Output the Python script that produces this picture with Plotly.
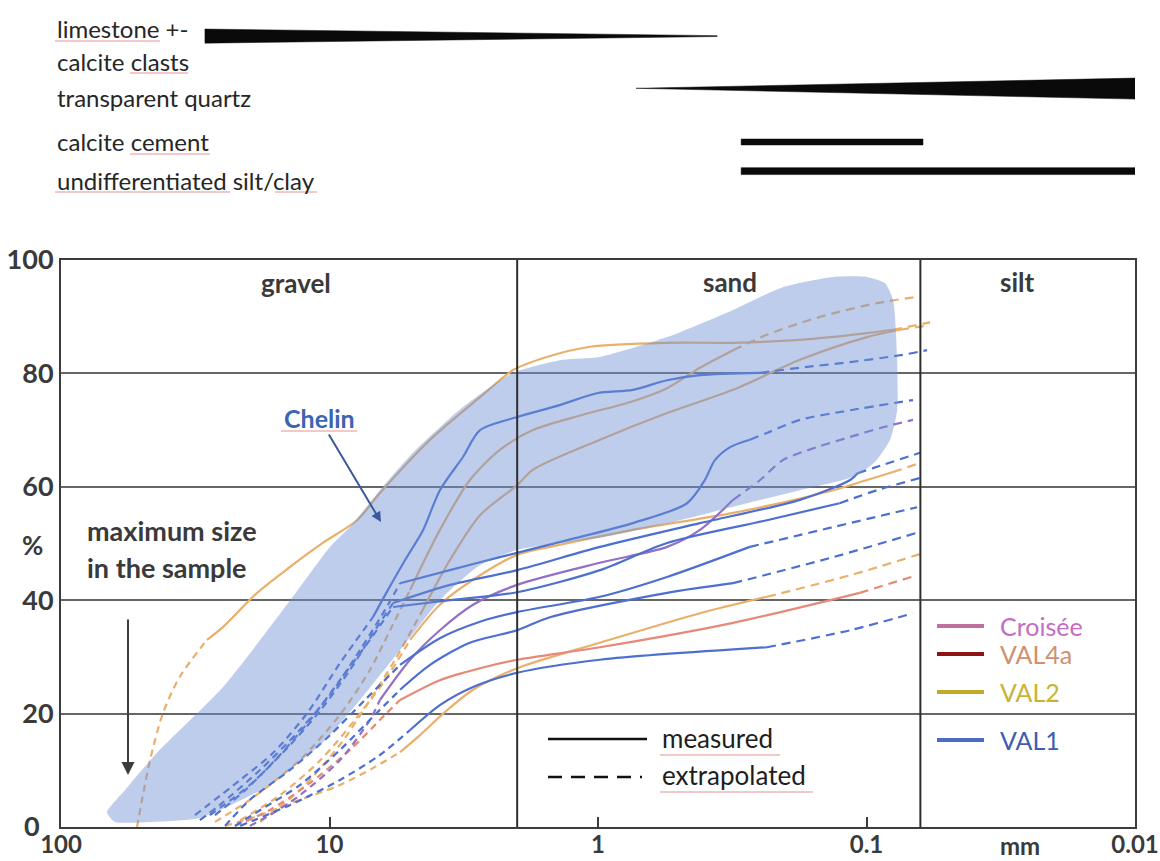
import plotly.graph_objects as go

# ---------------- data ----------------
series_names = ["Croisée", "VAL4a", "VAL2", "VAL1"]
series_swatch_colors = ["#c0709c", "#8e1414", "#c4aa2a", "#4c6cc4"]
series_text_colors = ["#c46cc4", "#d0906e", "#c8b434", "#3f5cb0"]
curve_colors = {"Croisée": "#9270c6", "VAL4a": "#e68a78", "VAL2": "#e9b06c", "VAL1": "#4d6fcf"}

x_tick_vals = [100, 10, 1, 0.1, 0.01]
x_tick_text = ["100", "10", "1", "0.1", "0.01"]
y_tick_vals = [0, 20, 40, 60, 80, 100]

fraction_names = ["gravel", "sand", "silt"]
fraction_limits_mm = [2.0, 0.063]

# composition bars (top panel)
mineral_labels = ["limestone +-", "calcite clasts", "transparent quartz", "calcite cement",
                  "undifferentiated silt/clay"]
mineral_coarse_mm = [29.1, 0.722, 0.293, 0.293]
mineral_fine_mm = [0.36, 0.01, 0.0616, 0.01]
mineral_abund_coarse = [0.47, 0.02, 0.20, 0.23]
mineral_abund_fine = [0.03, 0.70, 0.20, 0.23]
mineral_row = [5.13, 3.38, 1.60, 0.63]

# grain-size curves: size (mm), cumulative %, (first, last) index of the measured part
val2_a_mm = [52.1, 49.9, 46.6, 41.7, 36.1, 28.6, 24.9, 18.6, 14.0, 10.6, 7.90, 6.49, 4.22, 2.75, 2.07,
             1.55, 1.07, 0.553, 0.314, 0.177, 0.0996, 0.0796, 0.058]
val2_a_pct = [0, 4.8, 11.8, 20.1, 26.5, 33.0, 35.3, 41.3, 45.9, 50.1, 54.1, 58.9, 68.3, 75.8, 80.6,
              82.9, 84.7, 85.4, 85.4, 85.9, 87.1, 87.7, 89.0]
val2_a_meas = (5, 21)

val2_b_mm = [26.7, 19.8, 12.9, 9.14, 7.07, 5.95, 5.01, 3.88, 3.00, 2.32, 1.75, 1.14, 0.741, 0.553,
             0.417, 0.314, 0.235, 0.153, 0.0914, 0.0648]
val2_b_pct = [0.9, 4.8, 11.8, 19.8, 27.7, 34.7, 41.8, 52.4, 61.2, 66.5, 70.0, 72.7, 75.1, 77.4,
              81.0, 84.1, 86.8, 89.8, 92.4, 93.5]
val2_b_meas = (6, 15)

val2_c_mm = [18.1, 12.9, 9.14, 7.07, 5.70, 4.60, 3.56, 2.75, 2.00, 1.75, 0.983, 0.553, 0.314, 0.177,
             0.0996, 0.0750, 0.0580]
val2_c_pct = [0.9, 6.5, 14.5, 22.4, 29.5, 37.4, 47.1, 55.0, 60.3, 63.0, 68.3, 73.0, 77.1, 82.4,
              86.4, 87.7, 88.5]
val2_c_meas = (5, 15)

val2_d_mm = [21.5, 15.3, 10.8, 8.04, 6.21, 5.01, 3.88, 2.75, 2.00, 1.51, 0.741, 0.314, 0.133, 0.0996,
             0.0796, 0.0632]
val2_d_pct = [1.2, 5.6, 11.8, 18.9, 25.9, 33.0, 39.2, 44.4, 48.0, 49.4, 52.4, 55.4, 59.4, 61.2,
              62.6, 64.2]
val2_d_meas = (5, 14)

val2_e_mm = [24.5, 18.1, 12.9, 9.14, 6.77, 5.46, 4.60, 3.71, 2.92, 2.00, 0.983, 0.417, 0.235, 0.115,
             0.0616]
val2_e_pct = [0.2, 2.1, 4.8, 7.4, 10.6, 13.2, 16.2, 20.3, 24.2, 28.0, 32.5, 37.7, 40.6, 44.4, 48.3]
val2_e_meas = (5, 12)

val1_a_mm = [31.7, 21.5, 16.2, 12.1, 9.14, 6.89, 6.21, 5.23, 4.48, 3.88, 3.18, 2.75, 2.00, 1.39, 1.01,
             0.741, 0.553, 0.417, 0.249, 0.177, 0.115, 0.0750, 0.0595]
val1_a_pct = [2.1, 8.3, 13.1, 20.1, 28.9, 37.0, 40.9, 47.1, 52.4, 59.4, 65.3, 70.0, 72.3, 74.4, 76.5,
              77.1, 78.8, 79.7, 80.1, 81.0, 82.0, 83.2, 84.1]
val1_a_meas = (5, 18)

val1_b_mm = [30.4, 25.6, 18.1, 12.9, 9.96, 7.70, 6.21, 5.46, 3.56, 2.32, 1.30, 0.741, 0.466, 0.400,
             0.367, 0.322, 0.272, 0.235, 0.177, 0.115, 0.0671]
val1_b_pct = [1.2, 3.9, 10.1, 17.1, 23.3, 31.2, 38.3, 43.0, 45.3, 47.6, 50.6, 53.6, 57.1, 61.2,
              64.7, 67.0, 68.3, 69.5, 71.8, 73.5, 75.3]
val1_b_meas = (7, 16)

val1_c_mm = [27.9, 19.8, 14.0, 10.8, 8.39, 6.77, 5.80, 3.56, 2.00, 0.983, 0.417, 0.177, 0.115, 0.108,
             0.0946, 0.0632]
val1_c_pct = [2.1, 7.4, 14.5, 20.6, 27.7, 34.7, 39.5, 42.7, 45.3, 49.4, 53.6, 57.7, 61.2, 62.4,
              63.3, 66.0]
val1_c_meas = (6, 13)

val1_d_mm = [26.7, 20.6, 15.3, 11.8, 9.14, 7.07, 5.80, 3.56, 2.00, 0.983, 0.553, 0.235, 0.126, 0.0914,
             0.0616]
val1_d_pct = [2.1, 6.5, 12.7, 18.9, 25.9, 33.0, 38.8, 40.0, 41.4, 45.3, 50.1, 54.1, 57.1, 59.4, 61.7]
val1_d_meas = (6, 12)

val1_e_mm = [24.5, 19.8, 14.0, 9.96, 7.38, 5.46, 3.88, 2.75, 2.00, 0.983, 0.553, 0.272, 0.133, 0.0648]
val1_e_pct = [0.2, 4.8, 10.1, 16.2, 22.4, 28.6, 33.3, 36.2, 37.9, 40.6, 44.1, 49.4, 52.9, 56.4]
val1_e_meas = (5, 11)

val1_f_mm = [22.5, 18.1, 12.9, 9.14, 6.77, 5.46, 4.22, 3.00, 2.00, 1.51, 0.553, 0.314, 0.133, 0.0648]
val1_f_pct = [0.2, 3.0, 7.4, 13.6, 19.8, 24.2, 28.6, 32.5, 34.7, 37.0, 41.3, 43.0, 47.6, 51.9]
val1_f_meas = (5, 11)

val1_g_mm = [21.5, 14.0, 9.14, 6.49, 5.01, 3.88, 2.92, 2.00, 0.983, 0.235, 0.115, 0.0671]
val1_g_pct = [0.2, 3.9, 8.3, 12.7, 17.1, 21.5, 24.7, 27.2, 29.5, 31.7, 34.7, 37.7]
val1_g_meas = (4, 9)

val4a_a_mm = [22.5, 16.7, 12.1, 8.39, 6.21, 5.46, 3.88, 2.75, 2.00, 0.983, 0.314, 0.106, 0.0648]
val4a_a_pct = [0.2, 3.0, 7.4, 13.6, 19.8, 22.4, 25.9, 28.0, 29.5, 31.7, 36.0, 41.3, 44.4]
val4a_a_meas = (5, 11)

croisee_a_mm = [19.8, 16.7, 12.9, 9.14, 7.07, 6.49, 5.01, 3.88, 2.92, 2.00, 0.983, 0.553, 0.417, 0.314,
                0.249, 0.205, 0.153, 0.115, 0.0868, 0.0671]
croisee_a_pct = [0.2, 2.1, 5.6, 11.8, 18.9, 22.4, 29.5, 34.7, 39.2, 42.7, 46.6, 49.4, 52.4, 57.7,
                 61.2, 64.7, 67.0, 68.8, 70.5, 71.8]
croisee_a_meas = (5, 13)

# Chelin envelope
chelin_mm = [67.4, 57.8, 43.9, 24.9, 14.0, 9.96, 8.39, 6.49, 4.89, 3.18, 2.07, 1.35, 0.984, 0.553, 0.314,
             0.205, 0.133, 0.0996, 0.0853, 0.0796, 0.0769, 0.0769, 0.0817, 0.0929, 0.110, 0.177, 0.296,
             0.495, 0.984, 1.99, 2.75, 3.88, 5.46, 7.70, 10.8, 18.1, 30.4, 46.6, 63.0]
chelin_pct = [2.6, 6.5, 13.1, 24.7, 40.0, 49.4, 52.9, 59.4, 66.0, 74.1, 80.1, 82.4, 82.9, 86.4, 91.2,
              95.2, 97.0, 97.0, 95.9, 92.9, 82.4, 73.5, 68.3, 64.4, 61.9, 59.4, 56.8, 54.1, 51.0, 48.9,
              46.2, 40.0, 31.2, 22.4, 14.5, 6.5, 1.6, 0.9, 0.9]

curves = [
    ("VAL2", val2_a_mm, val2_a_pct, val2_a_meas),
    ("VAL2", val2_b_mm, val2_b_pct, val2_b_meas),
    ("VAL2", val2_c_mm, val2_c_pct, val2_c_meas),
    ("VAL2", val2_d_mm, val2_d_pct, val2_d_meas),
    ("VAL2", val2_e_mm, val2_e_pct, val2_e_meas),
    ("VAL4a", val4a_a_mm, val4a_a_pct, val4a_a_meas),
    ("Croisée", croisee_a_mm, croisee_a_pct, croisee_a_meas),
    ("VAL1", val1_g_mm, val1_g_pct, val1_g_meas),
    ("VAL1", val1_f_mm, val1_f_pct, val1_f_meas),
    ("VAL1", val1_e_mm, val1_e_pct, val1_e_meas),
    ("VAL1", val1_d_mm, val1_d_pct, val1_d_meas),
    ("VAL1", val1_c_mm, val1_c_pct, val1_c_meas),
    ("VAL1", val1_b_mm, val1_b_pct, val1_b_meas),
    ("VAL1", val1_a_mm, val1_a_pct, val1_a_meas),
]

# ---------------- layout helpers (figure pixels -> paper) ----------------
W, H = 1160, 861
ML, MR, MT, MB = 61, 25, 0, 34
PW, PH = W - ML - MR, H - MT - MB


def px(x):
    return (x - ML) / PW


def py(y):
    return (H - MB - y) / PH


FONT = "Lato, 'Open Sans', sans-serif"
DARK = "#3a3a3a"

fig = go.Figure()

# curves
for name, mm, pct, (s, e) in curves:
    col = curve_colors[name]
    segs = [(0, s, "7px,5px"), (s, e, "solid"), (e, len(mm) - 1, "9px,6px")]
    for a, b, dash in segs:
        if b <= a:
            continue
        fig.add_trace(go.Scatter(
            x=mm[a:b + 1], y=pct[a:b + 1], mode="lines",
            line=dict(color=col, width=2.2, dash=dash, shape="spline", smoothing=0.8),
            showlegend=False, hoverinfo="skip", xaxis="x", yaxis="y"))

# Chelin field
fig.add_trace(go.Scatter(
    x=chelin_mm + [chelin_mm[0]], y=chelin_pct + [chelin_pct[0]], mode="lines",
    fill="toself", fillcolor="rgba(110,145,212,0.45)",
    line=dict(width=0, shape="spline", smoothing=0.6), showlegend=False, hoverinfo="skip",
    xaxis="x", yaxis="y"))

# fraction boundaries
for lim in fraction_limits_mm:
    fig.add_trace(go.Scatter(x=[lim, lim], y=[0, 100], mode="lines",
                             line=dict(color="#2e2e2e", width=2), showlegend=False,
                             hoverinfo="skip", xaxis="x", yaxis="y"))

# composition bars (top panel)
for i in range(len(mineral_row)):
    c = mineral_row[i]
    h0 = mineral_abund_coarse[i] / 2
    h1 = mineral_abund_fine[i] / 2
    x0, x1 = mineral_coarse_mm[i], mineral_fine_mm[i]
    fig.add_trace(go.Scatter(
        x=[x0, x1, x1, x0, x0], y=[c + h0, c + h1, c - h1, c - h0, c + h0], mode="lines",
        fill="toself", fillcolor="#0a0a0a", line=dict(width=0.5, color="#0a0a0a"),
        showlegend=False, hoverinfo="skip", xaxis="x2", yaxis="y2"))

annotations = []
# top-panel labels
label_pos = [(55, 28), (55, 61), (55, 97), (55, 142), (55, 180)]
for txt, (lx, ly) in zip(mineral_labels, label_pos):
    annotations.append(dict(text=txt, x=px(lx), y=py(ly), xref="paper", yref="paper",
                            xanchor="left", yanchor="middle", showarrow=False,
                            font=dict(family=FONT, size=24, color="#262626")))

# fraction names
for txt, (lx, ly) in zip(fraction_names, [(296, 283), (730, 282), (1017, 282)]):
    annotations.append(dict(text="<b>%s</b>" % txt, x=px(lx), y=py(ly), xref="paper", yref="paper",
                            xanchor="center", yanchor="middle", showarrow=False,
                            font=dict(family=FONT, size=26, color=DARK)))

# maximum size note + arrow
annotations.append(dict(text="<b>maximum size</b>", x=px(85), y=py(530), xref="paper", yref="paper",
                        xanchor="left", yanchor="middle", showarrow=False,
                        font=dict(family=FONT, size=27, color=DARK)))
annotations.append(dict(text="<b>in the sample</b>", x=px(85), y=py(567), xref="paper", yref="paper",
                        xanchor="left", yanchor="middle", showarrow=False,
                        font=dict(family=FONT, size=27, color=DARK)))
annotations.append(dict(text="", x=px(128), y=py(775), xref="paper", yref="paper",
                        ax=0, ay=-157, showarrow=True, arrowhead=2, arrowsize=1.3, arrowwidth=2,
                        arrowcolor="#3c3c3c"))
annotations.append(dict(text="<b>%</b>", x=px(32), y=py(545), xref="paper", yref="paper",
                        xanchor="center", yanchor="middle", showarrow=False,
                        font=dict(family=FONT, size=26, color=DARK)))
annotations.append(dict(text="<b>mm</b>", x=px(1020), y=py(845), xref="paper", yref="paper",
                        xanchor="center", yanchor="middle", showarrow=False,
                        font=dict(family=FONT, size=24, color=DARK)))

# Chelin label with arrow
annotations.append(dict(text="<b>Chelin</b>", x=px(381), y=py(522), xref="paper", yref="paper",
                        ax=-62, ay=-104, showarrow=True, arrowhead=2, arrowsize=1, arrowwidth=2,
                        arrowcolor="#3b5a9a", font=dict(family=FONT, size=25, color="#3c64b4")))

# series legend
legend_rows = [626, 654, 692, 740]
shapes = []
for name, sw, tc, ry in zip(series_names, series_swatch_colors, series_text_colors, legend_rows):
    shapes.append(dict(type="line", xref="paper", yref="paper", x0=px(937), x1=px(984),
                       y0=py(ry), y1=py(ry), line=dict(color=sw, width=4)))
    annotations.append(dict(text=name, x=px(998), y=py(ry), xref="paper", yref="paper",
                            xanchor="left", yanchor="middle", showarrow=False,
                            font=dict(family=FONT, size=25, color=tc)))

# measured / extrapolated key
shapes.append(dict(type="line", xref="paper", yref="paper", x0=px(548), x1=px(647),
                   y0=py(739), y1=py(739), line=dict(color="#111111", width=2.5)))
shapes.append(dict(type="line", xref="paper", yref="paper", x0=px(548), x1=px(642),
                   y0=py(777), y1=py(777), line=dict(color="#111111", width=2.5, dash="14px,9px")))
for txt, ry in [("measured", 738), ("extrapolated", 775)]:
    annotations.append(dict(text=txt, x=px(660), y=py(ry), xref="paper", yref="paper",
                            xanchor="left", yanchor="middle", showarrow=False,
                            font=dict(family=FONT, size=26, color="#1e1e1e")))

# spell-check underlines
for x0, x1, uy in [(55, 160, 41), (130, 188, 73), (130, 210, 154), (55, 230, 192), (275, 317, 192),
                   (281, 357, 431), (660, 780, 755), (660, 813, 792)]:
    shapes.append(dict(type="line", xref="paper", yref="paper", x0=px(x0), x1=px(x1),
                       y0=py(uy), y1=py(uy), line=dict(color="rgba(225,110,110,0.75)", width=1.2)))

main_bottom = 0.0
main_top = py(260)

y_tick_text = ["<b>%d</b>" % v for v in y_tick_vals]
y_tick_text[0] = "<b>0</b>&nbsp;&nbsp;"

fig.update_layout(
    width=W, height=H, autosize=False,
    margin=dict(l=ML, r=MR, t=MT, b=MB, pad=0, autoexpand=False),
    paper_bgcolor="white", plot_bgcolor="white",
    font=dict(family=FONT, color=DARK),
    showlegend=False,
    xaxis=dict(type="log", range=[2, -2], domain=[0, 1], anchor="y", automargin=False,
               tickvals=x_tick_vals, ticktext=["<b>%s</b>" % t for t in x_tick_text],
               tickfont=dict(family=FONT, size=24, color=DARK), ticklabeloverflow="allow",
               ticklabelstandoff=-5,
               ticks="inside", ticklen=10, tickwidth=2, tickcolor="#3c3c3c",
               showgrid=False, zeroline=False, showline=True, mirror=True,
               linecolor="#3c3c3c", linewidth=2),
    yaxis=dict(range=[0, 100], domain=[main_bottom, main_top], anchor="x", automargin=False,
               tickvals=y_tick_vals, ticktext=y_tick_text, ticklabeloverflow="allow",
               tickfont=dict(family=FONT, size=27, color=DARK), ticks="",
               showgrid=True, gridcolor="#666666", gridwidth=1.6, zeroline=False,
               showline=True, mirror=True, linecolor="#3c3c3c", linewidth=2),
    xaxis2=dict(type="log", range=[2, -2], domain=[0, 1], anchor="y2", visible=False,
                automargin=False),
    yaxis2=dict(range=[0, 6], domain=[py(190), py(10)], anchor="x2", visible=False,
                automargin=False),
    annotations=annotations,
    shapes=shapes,
)

fig.write_html("out.html", config={"displayModeBar": False},
               post_script="document.body.style.margin='0';")
